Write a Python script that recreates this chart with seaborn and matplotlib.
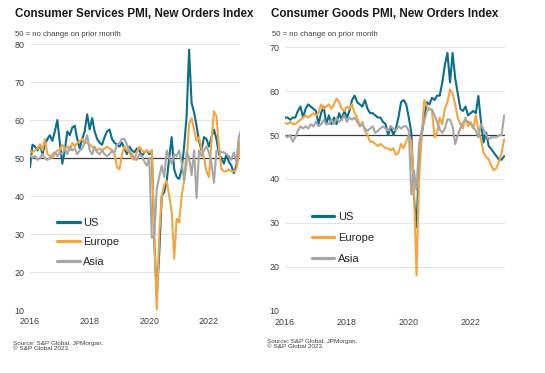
import numpy as np
import pandas as pd
import matplotlib
matplotlib.use("Agg")
import matplotlib.pyplot as plt
import seaborn as sns

# ---------------- data (monthly, Jan 2016 - Feb 2023) ----------------
start_year = 2016
regions = ["US", "Europe", "Asia"]

svc_us = [
    47.5, 53.5, 53.0, 52.0, 53.5, 51.0, 53.5, 55.0, 56.0, 54.5, 57.0, 60.0,
    54.0, 48.5, 52.0, 57.0, 56.0, 58.0, 58.5, 55.0, 52.5, 55.0, 57.0, 61.5,
    57.5, 60.5, 57.0, 55.0, 54.0, 53.5, 55.5, 57.0, 57.5, 55.0, 54.0, 53.5,
    53.0, 54.0, 52.5, 51.0, 53.0, 52.0, 51.5, 52.5, 52.0, 50.5, 51.5, 52.0,
    51.0, 52.0, 28.0, 13.5, 25.0, 40.0, 41.0, 44.0, 50.0, 55.5, 47.0, 45.0,
    44.5, 47.0, 53.0, 61.0, 78.5, 64.5, 62.0, 58.5, 54.5, 52.0, 55.5, 55.0,
    53.0, 55.5, 57.5, 55.0, 51.0, 50.0, 48.5, 51.0, 49.0, 48.0, 46.0, 48.0,
    52.0, 54.0,
]
svc_eu = [
    52.0, 51.5, 52.0, 52.5, 53.5, 52.0, 55.0, 51.0, 50.5, 50.0, 51.0, 52.0,
    52.0, 53.5, 52.5, 53.0, 52.0, 54.0, 53.0, 54.0, 54.5, 55.0, 54.0, 54.0,
    53.5, 53.0, 52.5, 52.0, 52.5, 52.0, 52.5, 53.0, 52.5, 52.0, 51.0, 47.5,
    47.0, 51.0, 53.0, 52.0, 51.5, 50.0, 49.5, 51.5, 53.0, 52.0, 51.5, 52.0,
    51.5, 52.0, 29.0, 10.0, 30.0, 40.0, 43.0, 44.0, 40.0, 36.0, 23.5, 34.0,
    33.0, 40.0, 44.0, 48.5, 59.0, 60.5, 57.5, 54.5, 55.5, 52.5, 50.0, 46.5,
    45.0, 54.5, 62.3, 61.0, 53.0, 47.0, 46.5, 46.5, 47.0, 46.5, 46.5, 47.0,
    50.5, 57.0,
]
svc_as = [
    51.0, 50.0, 50.5, 49.5, 50.0, 51.0, 50.0, 49.5, 50.0, 51.0, 51.5, 50.5,
    51.5, 51.0, 52.5, 51.0, 53.0, 52.0, 52.5, 51.0, 52.0, 52.5, 54.0, 56.0,
    52.0, 51.0, 53.0, 51.5, 51.0, 52.0, 51.0, 50.5, 51.0, 52.0, 51.5, 53.5,
    54.0, 55.0, 55.0, 53.5, 52.0, 51.0, 50.0, 49.5, 51.0, 50.5, 49.0, 48.0,
    50.0, 29.0, 29.5, 42.0, 45.0, 48.0, 45.0, 52.0, 50.0, 48.5, 51.0, 50.5,
    52.0, 49.0, 44.0, 51.5, 50.0, 45.5, 52.0, 39.5, 52.0, 50.5, 52.0, 53.0,
    51.5, 48.5, 43.5, 52.0, 52.0, 51.5, 51.5, 51.0, 50.5, 49.5, 51.5, 49.0,
    55.5, 57.5,
]

gds_us = [
    54.0, 54.0, 53.5, 54.0, 54.0, 55.5, 56.5, 54.0, 56.0, 57.0, 56.5, 56.0,
    55.5, 52.5, 55.0, 56.5, 52.5, 54.5, 52.5, 54.0, 52.5, 55.0, 53.5, 55.5,
    54.0, 55.5, 58.0, 59.0, 57.5, 57.0, 56.5, 58.0, 56.0, 55.0, 55.0, 54.5,
    54.0, 54.0, 53.0, 52.5, 50.0, 52.0, 50.0, 51.5, 54.0, 57.5, 58.0, 57.0,
    54.0, 50.5, 36.0, 29.0, 44.0, 50.0, 54.0, 57.5, 57.0, 58.5, 58.0, 59.0,
    59.0, 62.0, 66.0, 68.7, 62.0, 68.7, 63.0, 59.5, 56.0, 55.5, 56.5, 54.5,
    55.0, 55.5, 55.0, 58.9, 53.0, 48.3, 50.6, 47.5, 46.8, 46.0, 45.2, 44.4,
    44.4, 45.2,
]
gds_eu = [
    52.8, 52.5, 53.0, 52.5, 52.5, 53.0, 53.5, 54.0, 54.5, 54.0, 54.5, 55.0,
    54.5, 55.0, 57.0, 56.0, 56.5, 57.0, 56.0, 57.0, 58.3, 57.5, 56.0, 55.5,
    56.5, 56.0, 57.0, 55.0, 54.0, 52.0, 53.0, 51.0, 50.0, 48.5, 48.5, 48.0,
    47.5, 48.0, 47.5, 47.0, 47.0, 46.5, 47.0, 45.5, 46.0, 48.0, 47.0, 48.5,
    50.0, 48.5, 38.0, 18.0, 40.0, 50.0, 58.0, 56.5, 56.0, 55.5, 49.5, 50.5,
    54.0, 52.5, 56.0, 57.5, 60.4, 59.5, 57.0, 54.0, 52.5, 51.5, 54.0, 52.0,
    53.0, 51.5, 54.5, 51.0, 49.0, 46.0, 45.0, 44.5, 43.0, 42.0, 42.5, 44.0,
    46.0, 49.0,
]
gds_as = [
    50.0, 49.5, 50.0, 48.5, 49.5, 51.0, 52.0, 51.5, 52.0, 51.5, 52.5, 52.0,
    53.0, 52.0, 52.5, 53.5, 52.5, 52.5, 53.5, 52.5, 54.0, 53.0, 53.5, 54.5,
    53.0, 54.0, 53.5, 54.0, 53.0, 52.0, 52.5, 51.5, 51.0, 51.5, 52.0, 50.5,
    51.0, 51.5, 52.0, 51.5, 51.0, 52.0, 51.5, 51.0, 52.0, 51.5, 52.0, 52.0,
    51.0, 36.5, 42.0, 37.5, 48.0, 51.0, 53.0, 55.5, 56.0, 55.8, 54.5, 53.0,
    51.3, 50.5, 51.5, 53.6, 53.5, 52.0, 47.9, 50.0, 51.5, 52.9, 53.5, 53.0,
    52.5, 51.8, 51.0, 49.5, 52.5, 51.3, 50.0, 49.0, 49.5, 49.5, 49.5, 50.0,
    50.0, 54.5,
]

x_ticks = [2016, 2018, 2020, 2022]
left_yticks = [10, 20, 30, 40, 50, 60, 70, 80]
right_yticks = [10, 20, 30, 40, 50, 60, 70]

titles = ["Consumer Services PMI, New Orders Index", "Consumer Goods PMI, New Orders Index"]
subtitle = "50 = no change on prior month"
source = "Source: S&P Global, JPMorgan.\n\u00a9 S&P Global 2023."

palette = {"US": "#0B6E8A", "Europe": "#F5A540", "Asia": "#A6A6A6"}


def long_df(us, eu, asia):
    frames = []
    for r, vals in zip(regions, [us, eu, asia]):
        t = start_year + np.arange(len(vals)) / 12.0
        frames.append(pd.DataFrame({"t": t, "value": vals, "region": r}))
    return pd.concat(frames, ignore_index=True)


sns.set_style("white")
plt.rcParams["font.family"] = ["Liberation Sans", "DejaVu Sans"]

W, H = 545, 373
fig = plt.figure(figsize=(W / 100, H / 100), dpi=100)


def px_axes(x0, x1, ytop, ybot):
    return fig.add_axes([x0 / W, 1 - ybot / H, (x1 - x0) / W, (ybot - ytop) / H])


axL = px_axes(30, 240, 44, 310)
axR = px_axes(285, 505, 47.3, 310.7)

specs = [
    (axL, long_df(svc_us, svc_eu, svc_as), (10, 80), left_yticks, 2023.04, (57, 242.3), 0.83),
    (axR, long_df(gds_us, gds_eu, gds_as), (10, 70), right_yticks, 2023.11, (311.7, 237.8), 1.0),
]

for ax, df, ylim, yt, xmax, legpos, lsp in specs:
    ax.axhline(50, color="#3a3a3a", lw=0.9, zorder=1.5)
    sns.lineplot(data=df, x="t", y="value", hue="region", hue_order=regions,
                 palette=palette, linewidth=1.5, ax=ax, zorder=2)
    ax.set_xlim(2016, xmax)
    ax.set_ylim(*ylim)
    ax.set_xticks(x_ticks)
    ax.set_xticklabels([str(v) for v in x_ticks])
    ax.set_yticks(yt)
    ax.set_xlabel("")
    ax.set_ylabel("")
    ax.yaxis.grid(True, color="#E4E4E4", lw=0.7)
    ax.xaxis.grid(False)
    for s in ax.spines.values():
        s.set_visible(False)
    ax.tick_params(axis="both", length=0, labelsize=6.4, colors="#404040")
    ax.tick_params(axis="x", pad=5)
    ax.tick_params(axis="y", pad=4)
    handles, labels = ax.get_legend_handles_labels()
    for h in handles:
        h.set_linewidth(2.3)
    ax.legend(handles, labels, loc="center left",
              bbox_to_anchor=(legpos[0] / W, 1 - legpos[1] / H),
              bbox_transform=fig.transFigure, frameon=False,
              fontsize=8, handlelength=2.05, handletextpad=0.3,
              labelspacing=lsp, borderpad=0, borderaxespad=0)

fig.text(15 / W, 1 - 14 / H, titles[0], fontsize=8.4, fontweight="bold",
         color="#1a1a1a", ha="left", va="center")
fig.text(271 / W, 1 - 14 / H, titles[1], fontsize=8.4, fontweight="bold",
         color="#1a1a1a", ha="left", va="center")
fig.text(15 / W, 1 - 34 / H, subtitle, fontsize=5.6, color="#404040",
         ha="left", va="center")
fig.text(272 / W, 1 - 34 / H, subtitle, fontsize=5.6, color="#404040",
         ha="left", va="center")
fig.text(13 / W, 1 - 341 / H, source, fontsize=4.6, color="#404040",
         ha="left", va="top", linespacing=1.1)
fig.text(267 / W, 1 - 339 / H, source, fontsize=4.6, color="#404040",
         ha="left", va="top", linespacing=1.1)

fig.savefig("out.png", dpi=100, facecolor="white")
